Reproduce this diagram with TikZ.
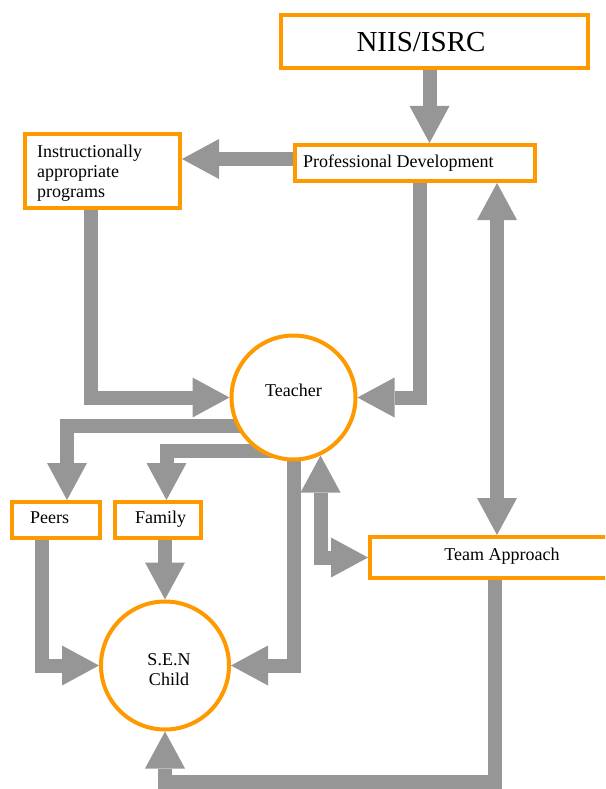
\documentclass[tikz,border=0pt]{standalone}
\usepackage{fontspec}
\setmainfont{Liberation Serif}
\usetikzlibrary{arrows.meta,calc}
\pgfdeclarelayer{bg}
\pgfsetlayers{bg,main}
\definecolor{org}{HTML}{FF9900}
\definecolor{arr}{HTML}{969696}
\tikzset{
  box/.style={draw=org, line width=4pt, fill=white, rectangle, inner sep=0pt},
  circ/.style={draw=org, line width=4pt, fill=white, circle, inner sep=0pt},
  tipA/.tip={Triangle[width=40pt,length=37pt,line width=0pt]},
  flow/.style={draw=arr, line width=14pt, -tipA},
  flowtwo/.style={draw=arr, line width=14pt, tipA-tipA},
  lbl/.style={font=\fontsize{18}{20}\selectfont, inner sep=0pt},
}
\begin{document}
\begin{tikzpicture}[x=1pt,y=-1pt]
\useasboundingbox (0,0) rectangle (605,789);
\clip (0,0) rectangle (605,789);
% boxes
\node[box, minimum width=307, minimum height=53] (niis) at (434.5,41.5) {};
\node[box, minimum width=240, minimum height=36] (profdev) at (415,163) {};
\node[box, minimum width=155, minimum height=74] (instr) at (102.5,171) {};
\node[box, minimum width=264, minimum height=41] (team) at (502,557.5) {};
\node[box, minimum width=88, minimum height=36] (peers) at (56,520) {};
\node[box, minimum width=86, minimum height=36] (family) at (158,520) {};
\node[circ, minimum size=124] (teacher) at (293.5,397.5) {};
\node[circ, minimum size=128] (sen) at (165,665.5) {};
% texts
\node[inner sep=0pt, font=\fontsize{29}{32}\selectfont] (niisT) at (421,42) {NIIS/ISRC};
\node[lbl, anchor=west] (profdevT) at (303,163) {Professional Development};
\node[lbl, anchor=west, align=left] (instrT) at (37,173.5) {Instructionally\\appropriate\\programs};
\node[lbl] (teamT) at (502,556) {Team Approach};
\node[lbl, anchor=base west] (peersT) at (30,523) {Peers};
\node[lbl, anchor=base west] (familyT) at (135,523) {Family};
\node[lbl, anchor=base] (teacherT) at (293.5,396) {Teacher};
\node[lbl, anchor=base, align=center] (senT) at (169,685) {S.E.N\\Child};
\coordinate (bot) at (0,782);
% connectors
\begin{pgfonlayer}{bg}
\draw[flow] ([xshift=-5]niis.south) -- ([xshift=-5]niis.south |- profdev.north);
\draw[flow] ([yshift=4]profdev.west) -- ([yshift=4]profdev.west -| instr.east);
\draw[flow] ([xshift=-12]instr.south) |- (teacher.west);
\draw[flow] ([xshift=5]profdev.south) |- (teacher.east);
\draw[flowtwo] ([xshift=82]profdev.south) -- ([xshift=82]profdev.south |- team.north);
\draw[flowtwo] (team.west) -| (teacher.-65);
\draw[flow] ([xshift=15]teacher.206) -| ([xshift=11]peers.north);
\draw[flow] ([xshift=15]teacher.236.6) -| ([xshift=8.5]family.north);
\draw[flow] ([xshift=-14.5]peers.south) |- (sen.west);
\draw[flow] (family.south -| sen.north) -- (sen.north);
\draw[flow] ([yshift=10]teacher.south) |- (sen.east);
\draw[flow] ([xshift=-7]team.south) -- ([xshift=-7]team.south |- bot) -| (sen.south);
\end{pgfonlayer}
\end{tikzpicture}
\end{document}
